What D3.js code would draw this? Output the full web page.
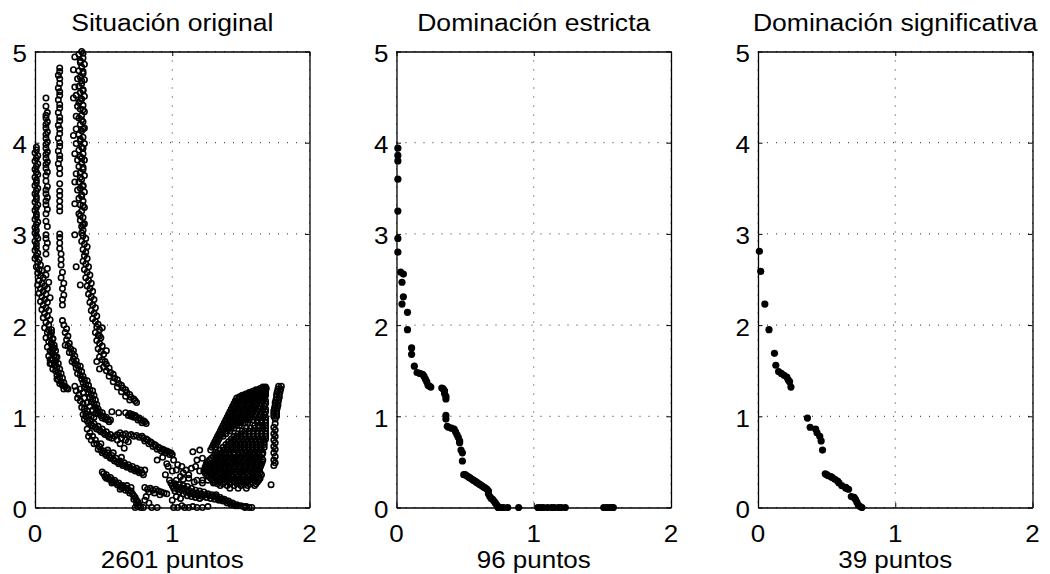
<!DOCTYPE html>
<html><head><meta charset="utf-8">
<script src="https://cdn.jsdelivr.net/npm/d3@7"></script>
<style>body{margin:0;background:#fff}svg{display:block}text{font-family:"Liberation Sans",Arial,Helvetica,sans-serif;fill:#000}</style>
</head><body>
<svg id="c" width="1050" height="574"></svg>
<script>
const titles = ["Situación original","Dominación estricta","Dominación significativa"];
const xlabels = ["2601 puntos","96 puntos","39 puntos"];
const xTicks = [0,1,2];
const yTicks = [0,1,2,3,4,5];

// ---- panel 1: all points (cluster by cluster) ----
const colA = [[0.01,3.95],[0.01,3.92],[0.00,3.89],[0.02,3.86],[0.01,3.83],[0.00,3.80],[0.02,3.77],[0.01,3.74],[0.00,3.71],[0.01,3.68],[0.02,3.65],[0.00,3.62],[0.01,3.59],[0.01,3.56],[0.00,3.53],[0.02,3.50],[0.01,3.47],[0.00,3.44],[0.01,3.41],[0.01,3.38],[0.00,3.35],[0.02,3.32],[0.01,3.29],[0.00,3.26],[0.01,3.22],[0.01,3.19],[0.00,3.16],[0.02,3.13],[0.01,3.10],[0.00,3.07],[0.01,3.04],[0.00,3.01],[0.01,2.98],[0.02,2.95],[0.00,2.92],[0.01,2.89],[0.01,2.85],[0.00,2.82],[0.02,2.79],[0.01,2.76],[0.00,2.73]];
const lowLeftSpread = [[0.03,2.72],[0.02,2.69],[0.04,2.66],[0.01,2.64],[0.03,2.61],[0.05,2.60],[0.02,2.57],[0.04,2.54],[0.06,2.52],[0.03,2.49],[0.05,2.46],[0.02,2.44],[0.07,2.43],[0.04,2.40],[0.06,2.37],[0.03,2.35],[0.08,2.34],[0.05,2.31],[0.07,2.28],[0.04,2.26],[0.09,2.25],[0.06,2.22],[0.08,2.19],[0.05,2.17],[0.10,2.16],[0.07,2.13],[0.09,2.10],[0.06,2.08],[0.11,2.06],[0.08,2.03],[0.10,2.00],[0.07,1.97],[0.12,1.95],[0.09,1.92],[0.11,1.89],[0.08,1.86],[0.13,1.85],[0.10,1.82],[0.12,1.79],[0.09,1.76],[0.14,1.75],[0.11,1.72],[0.13,1.69],[0.10,1.66],[0.15,1.65],[0.12,1.62],[0.14,1.59],[0.11,1.58]];
const colB = [[0.08,4.49],[0.08,4.40],[0.09,4.33],[0.08,4.30],[0.08,4.27],[0.09,4.23],[0.08,4.20],[0.08,4.16],[0.09,4.12],[0.08,4.09],[0.08,4.05],[0.09,4.01],[0.08,3.98],[0.08,3.94],[0.09,3.90],[0.08,3.87],[0.08,3.83],[0.09,3.79],[0.08,3.76],[0.08,3.72],[0.09,3.68],[0.08,3.64],[0.08,3.58],[0.09,3.52],[0.08,3.48],[0.08,3.44],[0.09,3.40],[0.08,3.36],[0.08,3.32],[0.09,3.27],[0.08,3.22],[0.08,3.14],[0.09,3.08],[0.08,2.99],[0.08,2.95],[0.09,2.90],[0.08,2.85],[0.08,2.78],[0.09,2.62],[0.08,2.55],[0.10,2.47],[0.09,2.40],[0.11,2.30]];
const colC = [[0.18,4.82],[0.18,4.78],[0.17,4.74],[0.18,4.70],[0.18,4.65],[0.17,4.60],[0.18,4.56],[0.18,4.52],[0.17,4.47],[0.18,4.42],[0.18,4.38],[0.17,4.33],[0.18,4.28],[0.18,4.24],[0.17,4.19],[0.18,4.15],[0.18,4.10],[0.17,4.05],[0.18,4.00],[0.18,3.96],[0.17,3.91],[0.18,3.86],[0.18,3.82],[0.17,3.77],[0.18,3.72],[0.18,3.66],[0.18,3.55],[0.18,3.47],[0.18,3.42],[0.18,3.36],[0.18,3.30],[0.18,3.25],[0.18,3.00],[0.18,2.96],[0.18,2.90],[0.18,2.84],[0.19,2.78],[0.19,2.72],[0.19,2.66],[0.20,2.58],[0.19,2.52],[0.21,2.46],[0.20,2.40],[0.21,2.33],[0.20,2.28],[0.20,2.22]];
const colD = [[0.34,5.00],[0.32,4.97],[0.35,4.93],[0.33,4.90],[0.36,4.86],[0.34,4.83],[0.32,4.79],[0.35,4.76],[0.33,4.72],[0.36,4.69],[0.34,4.65],[0.32,4.62],[0.35,4.58],[0.33,4.55],[0.36,4.51],[0.34,4.48],[0.32,4.44],[0.35,4.41],[0.33,4.37],[0.36,4.34],[0.34,4.30],[0.32,4.27],[0.35,4.23],[0.33,4.20],[0.36,4.16],[0.34,4.13],[0.32,4.09],[0.35,4.06],[0.33,4.02],[0.36,3.99],[0.34,3.95],[0.32,3.92],[0.35,3.88],[0.33,3.85],[0.36,3.81],[0.34,3.78],[0.32,3.74],[0.35,3.71],[0.33,3.67],[0.36,3.64],[0.34,3.60],[0.32,3.57],[0.35,3.53],[0.33,3.50],[0.36,3.46],[0.34,3.43],[0.32,3.39],[0.35,3.36],[0.33,3.32],[0.36,3.29],[0.34,3.25],[0.32,3.22],[0.35,3.18],[0.33,3.15],[0.36,3.11],[0.34,3.08],[0.35,3.04],[0.34,3.01],[0.35,4.98],[0.33,4.88],[0.35,4.78],[0.34,4.68],[0.35,4.57],[0.33,4.46],[0.35,4.36],[0.34,4.25],[0.35,4.15],[0.33,4.04],[0.35,3.94],[0.34,3.83],[0.35,3.73],[0.33,3.62],[0.35,3.52],[0.34,3.41],[0.35,3.31],[0.33,3.20],[0.35,3.10]];
const colDScatter = [[0.29,4.94],[0.28,4.80],[0.29,4.61],[0.28,4.49],[0.30,4.29],[0.28,4.08],[0.30,3.99],[0.29,3.88],[0.31,3.81],[0.30,3.66],[0.29,3.57],[0.31,3.48],[0.29,3.33],[0.29,2.99],[0.30,2.64],[0.33,2.44],[0.31,4.70],[0.30,4.52],[0.31,4.40],[0.30,4.15]];
const bandD = [[0.35,2.98],[0.37,2.95],[0.34,2.92],[0.36,2.89],[0.38,2.86],[0.35,2.83],[0.37,2.80],[0.36,2.76],[0.38,2.73],[0.35,2.70],[0.37,2.67],[0.39,2.64],[0.36,2.61],[0.38,2.58],[0.40,2.55],[0.37,2.52],[0.39,2.49],[0.41,2.46],[0.38,2.43],[0.40,2.40],[0.42,2.37],[0.39,2.34],[0.41,2.31],[0.43,2.28],[0.40,2.25],[0.42,2.22],[0.44,2.19],[0.41,2.16],[0.43,2.13],[0.45,2.10],[0.42,2.07],[0.44,2.04],[0.46,2.01],[0.45,1.98],[0.47,1.95],[0.44,1.92],[0.46,1.89],[0.48,1.86],[0.45,1.83],[0.47,1.80],[0.49,1.77],[0.46,1.74],[0.48,1.71],[0.50,1.68],[0.47,1.65],[0.49,1.62],[0.51,1.60],[0.52,1.57],[0.50,1.54],[0.54,1.53],[0.52,1.50],[0.55,1.48],[0.57,1.46],[0.54,1.44],[0.58,1.42],[0.60,1.40],[0.57,1.38],[0.61,1.36],[0.63,1.34],[0.60,1.32],[0.64,1.31],[0.66,1.29],[0.63,1.27],[0.67,1.26],[0.69,1.24],[0.66,1.22],[0.70,1.21],[0.72,1.19],[0.69,1.18],[0.73,1.17],[0.74,1.15],[0.47,1.88],[0.47,1.52],[0.45,1.60],[0.49,1.97],[0.52,1.72]];
const bandL1 = [[0.10,1.95],[0.12,1.92],[0.11,1.88],[0.13,1.85],[0.12,1.81],[0.14,1.78],[0.13,1.75],[0.15,1.72],[0.12,1.70],[0.14,1.67],[0.16,1.65],[0.13,1.62],[0.15,1.60],[0.17,1.58],[0.14,1.56],[0.16,1.54],[0.18,1.52],[0.15,1.50],[0.17,1.48],[0.19,1.47],[0.16,1.45],[0.18,1.43],[0.20,1.42],[0.17,1.40],[0.19,1.38],[0.21,1.37],[0.20,1.34],[0.22,1.33],[0.23,1.31],[0.21,1.30],[0.24,1.30],[0.12,1.58],[0.11,1.62],[0.13,1.52],[0.18,1.36],[0.16,1.41]];
const bandL2 = [[0.20,2.05],[0.21,2.00],[0.23,1.96],[0.22,1.92],[0.24,1.88],[0.23,1.84],[0.25,1.80],[0.24,1.77],[0.26,1.74],[0.28,1.72],[0.27,1.69],[0.29,1.66],[0.28,1.63],[0.30,1.61],[0.29,1.58],[0.31,1.56],[0.33,1.55],[0.30,1.53],[0.32,1.51],[0.34,1.49],[0.31,1.47],[0.33,1.45],[0.35,1.44],[0.34,1.41],[0.36,1.40],[0.38,1.39],[0.35,1.37],[0.37,1.35],[0.39,1.34],[0.36,1.32],[0.38,1.30],[0.40,1.29],[0.42,1.28],[0.39,1.26],[0.41,1.24],[0.43,1.23],[0.40,1.21],[0.42,1.19],[0.44,1.18],[0.41,1.16],[0.43,1.14],[0.45,1.13],[0.44,1.10],[0.46,1.08],[0.45,1.06],[0.47,1.05],[0.49,1.04],[0.46,1.03],[0.48,1.01],[0.50,1.00],[0.52,0.99],[0.49,0.98],[0.51,0.97],[0.53,0.96],[0.55,0.96],[0.54,0.94],[0.25,1.70],[0.22,1.78],[0.27,1.60],[0.30,1.28],[0.32,1.24],[0.31,1.20],[0.33,1.17],[0.35,1.14],[0.34,1.10],[0.36,1.08],[0.38,1.06],[0.37,1.03],[0.39,1.01],[0.41,1.00],[0.43,0.99],[0.36,1.20],[0.38,1.15],[0.40,1.11],[0.42,1.07],[0.44,1.03],[0.33,1.30],[0.29,1.33],[0.35,1.26]];
const bandShort = [[0.56,1.05],[0.61,1.04],[0.66,1.04],[0.69,1.03],[0.71,1.02],[0.73,1.01],[0.72,0.99],[0.74,0.99],[0.76,0.98],[0.75,0.96],[0.77,0.96],[0.79,0.95],[0.78,0.93],[0.80,0.94],[0.81,0.92],[0.70,1.00],[0.68,1.01]];
const bandM = [[0.35,1.02],[0.37,1.00],[0.36,0.97],[0.38,0.95],[0.40,0.96],[0.39,0.93],[0.41,0.91],[0.43,0.92],[0.42,0.89],[0.44,0.88],[0.46,0.89],[0.45,0.86],[0.47,0.85],[0.49,0.86],[0.48,0.83],[0.50,0.82],[0.52,0.83],[0.51,0.80],[0.53,0.79],[0.55,0.80],[0.54,0.77],[0.56,0.76],[0.58,0.78],[0.60,0.80],[0.62,0.82],[0.64,0.80],[0.66,0.81],[0.68,0.79],[0.70,0.80],[0.72,0.78],[0.74,0.79],[0.76,0.77],[0.78,0.78],[0.79,0.76],[0.81,0.75],[0.80,0.73],[0.82,0.74],[0.84,0.72],[0.83,0.70],[0.85,0.71],[0.87,0.69],[0.86,0.67],[0.88,0.68],[0.90,0.66],[0.89,0.64],[0.91,0.65],[0.93,0.64],[0.92,0.62],[0.94,0.63],[0.96,0.62],[0.95,0.60],[0.97,0.61],[0.99,0.60],[1.00,0.58],[0.98,0.58],[0.62,0.70],[0.65,0.65],[0.68,0.72],[0.60,0.74],[0.66,0.74],[0.63,0.76],[0.38,0.86],[0.40,0.82],[0.42,0.78],[0.41,0.74],[0.43,0.70],[0.39,0.78]];
const bandN = [[0.44,0.74],[0.45,0.70],[0.47,0.67],[0.46,0.64],[0.48,0.63],[0.50,0.62],[0.49,0.60],[0.51,0.59],[0.53,0.60],[0.52,0.57],[0.54,0.56],[0.56,0.57],[0.55,0.54],[0.57,0.53],[0.59,0.54],[0.58,0.51],[0.60,0.50],[0.62,0.51],[0.61,0.48],[0.63,0.48],[0.65,0.49],[0.64,0.46],[0.66,0.46],[0.68,0.47],[0.67,0.44],[0.69,0.44],[0.71,0.45],[0.70,0.42],[0.72,0.42],[0.74,0.43],[0.73,0.40],[0.75,0.40],[0.77,0.41],[0.76,0.38],[0.78,0.38],[0.80,0.41],[0.79,0.36],[0.53,0.63],[0.57,0.60],[0.63,0.55],[0.48,0.70]];
const bandLow = [[0.49,0.39],[0.50,0.37],[0.52,0.36],[0.51,0.34],[0.53,0.33],[0.55,0.33],[0.54,0.31],[0.56,0.30],[0.58,0.30],[0.57,0.28],[0.59,0.27],[0.61,0.27],[0.60,0.25],[0.62,0.24],[0.64,0.24],[0.63,0.22],[0.65,0.22],[0.67,0.21],[0.66,0.19],[0.68,0.19],[0.70,0.18],[0.69,0.16],[0.71,0.15],[0.72,0.13],[0.73,0.11],[0.72,0.09],[0.74,0.08],[0.75,0.06],[0.74,0.04],[0.76,0.03],[0.75,0.01],[0.77,0.00],[0.73,0.00],[0.79,0.00],[0.52,0.32],[0.56,0.27],[0.62,0.20],[0.67,0.24],[0.70,0.22]];
const band8 = [[0.80,0.22],[0.82,0.20],[0.84,0.21],[0.86,0.19],[0.88,0.20],[0.90,0.18],[0.92,0.17],[0.94,0.16],[0.96,0.15],[0.83,0.17],[0.87,0.16],[0.91,0.14],[0.80,0.08],[0.83,0.05],[0.85,0.00],[0.89,0.00],[0.81,0.12]];
const scatMid = [[0.93,0.55],[0.89,0.52],[0.97,0.45],[0.96,0.48],[1.01,0.52],[1.03,0.41],[1.07,0.45],[1.10,0.41],[1.14,0.43],[1.06,0.34],[0.98,0.30],[1.08,0.38],[1.15,0.61],[1.20,0.63],[1.22,0.54],[1.18,0.52],[1.25,0.48],[1.24,0.38],[1.22,0.30],[1.32,0.14],[1.00,0.40],[1.04,0.47],[0.95,0.36],[1.12,0.36],[1.17,0.45],[1.20,0.40]];
const tail = [[0.99,0.27],[1.00,0.24],[1.02,0.26],[1.01,0.21],[1.03,0.23],[1.05,0.25],[1.02,0.18],[1.04,0.20],[1.06,0.22],[1.08,0.24],[1.05,0.17],[1.07,0.19],[1.09,0.21],[1.11,0.23],[1.08,0.15],[1.10,0.17],[1.12,0.19],[1.14,0.21],[1.11,0.13],[1.13,0.15],[1.15,0.17],[1.17,0.19],[1.14,0.12],[1.16,0.14],[1.18,0.16],[1.20,0.18],[1.17,0.11],[1.19,0.13],[1.21,0.15],[1.23,0.17],[1.20,0.10],[1.22,0.12],[1.24,0.14],[1.26,0.15],[1.25,0.11],[1.27,0.13],[1.29,0.14],[1.28,0.10],[1.30,0.12],[1.32,0.12],[1.31,0.09],[1.33,0.10],[1.35,0.11],[1.34,0.08],[1.36,0.09],[1.38,0.09],[1.37,0.07],[1.39,0.07],[1.41,0.07],[1.40,0.05],[1.42,0.05],[1.44,0.05],[1.43,0.03],[1.45,0.03],[1.47,0.03],[1.46,0.02],[1.48,0.02],[1.50,0.02],[1.52,0.01],[1.54,0.01],[1.56,0.00],[1.58,0.00],[1.53,0.00],[1.01,0.00],[1.04,0.00],[1.07,0.02],[1.09,0.00],[1.12,0.00],[1.15,0.01],[1.18,0.00],[1.22,0.00],[1.26,0.01],[1.00,0.08],[1.03,0.12],[1.06,0.10],[1.03,0.30],[1.08,0.31],[1.12,0.32],[1.16,0.28],[1.22,0.27],[1.26,0.30],[1.30,0.27],[1.18,0.30]];
// dense right-hand cloud, one row per y value: [y, x1, x2, ...]
const blobRows = [
[1.32,1.66,1.68],
[1.305,1.64,1.665,1.685],
[1.29,1.61,1.63,1.66,1.68],
[1.275,1.585,1.61,1.635,1.66,1.68],
[1.26,1.56,1.59,1.61,1.64,1.66,1.68],
[1.245,1.535,1.56,1.585,1.61,1.635,1.66,1.68],
[1.23,1.51,1.53,1.56,1.58,1.61,1.63,1.66,1.68],
[1.215,1.49,1.515,1.54,1.565,1.59,1.615,1.64,1.665],
[1.20,1.47,1.49,1.52,1.54,1.57,1.59,1.62,1.64,1.67],
[1.17,1.46,1.48,1.51,1.53,1.56,1.58,1.61,1.63,1.66,1.68],
[1.14,1.45,1.47,1.50,1.52,1.55,1.57,1.60,1.62,1.65,1.68],
[1.11,1.44,1.46,1.49,1.51,1.54,1.56,1.59,1.61,1.64,1.67],
[1.08,1.43,1.45,1.48,1.50,1.53,1.55,1.58,1.60,1.63,1.66,1.68],
[1.05,1.42,1.44,1.47,1.49,1.52,1.54,1.57,1.59,1.62,1.65,1.68],
[1.02,1.41,1.43,1.46,1.48,1.51,1.53,1.56,1.58,1.61,1.64,1.67],
[0.99,1.40,1.42,1.45,1.47,1.50,1.52,1.55,1.57,1.60,1.63,1.66,1.68],
[0.96,1.39,1.41,1.44,1.46,1.49,1.51,1.54,1.56,1.59,1.62,1.65,1.68],
[0.93,1.38,1.40,1.43,1.45,1.48,1.50,1.53,1.55,1.62,1.65,1.68],
[0.90,1.37,1.39,1.42,1.44,1.47,1.49,1.60,1.63,1.66,1.68],
[0.87,1.36,1.38,1.41,1.43,1.45,1.54,1.57,1.60,1.63,1.66,1.68],
[0.84,1.35,1.37,1.40,1.42,1.51,1.53,1.56,1.59,1.62,1.65,1.68],
[0.81,1.34,1.36,1.39,1.48,1.50,1.53,1.56,1.59,1.62,1.65,1.68],
[0.78,1.33,1.35,1.37,1.45,1.47,1.50,1.53,1.56,1.59,1.62,1.65,1.68],
[0.75,1.32,1.34,1.43,1.45,1.48,1.51,1.54,1.57,1.60,1.63,1.66,1.68],
[0.72,1.31,1.33,1.41,1.43,1.46,1.49,1.52,1.55,1.58,1.61,1.64,1.67],
[0.69,1.30,1.32,1.39,1.41,1.44,1.47,1.50,1.53,1.56,1.59,1.62,1.65,1.67],
[0.66,1.29,1.31,1.37,1.40,1.43,1.46,1.49,1.52,1.55,1.58,1.61,1.64,1.67],
[0.63,1.28,1.35,1.38,1.41,1.44,1.47,1.50,1.53,1.56,1.59,1.62,1.65],
[0.60,1.33,1.36,1.39,1.42,1.45,1.48,1.51,1.54,1.57,1.60,1.63,1.66],
[0.58,1.315,1.345,1.38,1.415,1.45,1.485,1.52,1.555,1.59,1.625,1.655],
[0.56,1.30,1.33,1.36,1.40,1.43,1.47,1.50,1.54,1.57,1.61,1.64],
[0.54,1.285,1.315,1.35,1.385,1.42,1.455,1.49,1.53,1.565,1.60,1.635],
[0.52,1.27,1.31,1.34,1.38,1.41,1.45,1.48,1.52,1.56,1.59,1.63,1.66],
[0.50,1.26,1.30,1.33,1.37,1.40,1.44,1.47,1.51,1.55,1.585,1.62,1.655],
[0.48,1.25,1.29,1.32,1.36,1.39,1.43,1.46,1.50,1.54,1.58,1.62,1.65],
[0.46,1.245,1.28,1.315,1.35,1.385,1.42,1.455,1.495,1.535,1.575,1.615,1.645],
[0.44,1.24,1.27,1.31,1.34,1.38,1.41,1.45,1.49,1.53,1.57,1.61,1.64],
[0.42,1.235,1.265,1.305,1.335,1.375,1.405,1.445,1.485,1.525,1.565,1.605,1.635],
[0.40,1.23,1.26,1.30,1.33,1.37,1.40,1.44,1.48,1.52,1.56,1.60,1.63],
[0.38,1.24,1.275,1.31,1.345,1.38,1.415,1.455,1.495,1.535,1.575,1.61,1.64],
[0.36,1.25,1.29,1.32,1.36,1.39,1.43,1.47,1.51,1.55,1.59,1.62,1.65],
[0.34,1.265,1.30,1.335,1.37,1.405,1.44,1.48,1.52,1.56,1.60,1.63],
[0.32,1.28,1.31,1.35,1.38,1.42,1.46,1.50,1.54,1.58,1.61,1.64],
[0.30,1.295,1.325,1.36,1.40,1.44,1.48,1.52,1.56,1.60,1.63],
[0.28,1.31,1.34,1.38,1.42,1.46,1.50,1.54,1.58,1.62],
[0.26,1.33,1.37,1.42,1.47,1.52,1.57,1.61],
[0.24,1.35,1.40,1.45,1.50,1.55,1.60],
[0.21,1.42,1.48,1.54]
];
const rightCol = [[1.775,1.33],[1.795,1.33],[1.77,1.30],[1.79,1.30],[1.765,1.27],[1.785,1.27],[1.76,1.24],[1.78,1.24],[1.76,1.21],[1.78,1.21],[1.755,1.18],[1.775,1.18],[1.75,1.15],[1.77,1.15],[1.75,1.12],[1.77,1.12],[1.745,1.09],[1.765,1.09],[1.74,1.06],[1.76,1.06],[1.74,1.03],[1.76,1.03],[1.74,1.00],[1.76,1.00],[1.75,0.97],[1.75,0.92],[1.74,0.88],[1.75,0.85],[1.74,0.81],[1.75,0.78],[1.74,0.74],[1.75,0.71],[1.74,0.67],[1.75,0.64],[1.74,0.60],[1.75,0.56],[1.74,0.52],[1.75,0.49],[1.74,0.46],[1.72,0.25]];

// ---- panel 2: strict domination (96 points) ----
const strictPts = [[0.01,3.94],[0.01,3.86],[0.01,3.80],[0.01,3.60],[0.01,3.25],[0.01,2.95],[0.01,2.80],[0.03,2.58],[0.05,2.56],[0.04,2.47],[0.05,2.31],[0.04,2.23],[0.08,2.14],[0.08,1.95],[0.11,1.75],[0.11,1.68],[0.13,1.55],[0.15,1.48],[0.17,1.47],[0.19,1.46],[0.20,1.44],[0.21,1.41],[0.22,1.38],[0.23,1.34],[0.25,1.32],[0.24,1.33],[0.33,1.31],[0.34,1.30],[0.35,1.28],[0.35,1.25],[0.36,1.22],[0.36,1.19],[0.36,1.01],[0.36,0.97],[0.37,0.89],[0.38,0.88],[0.40,0.87],[0.42,0.86],[0.43,0.83],[0.44,0.80],[0.45,0.77],[0.46,0.73],[0.46,0.71],[0.47,0.63],[0.48,0.60],[0.48,0.51],[0.49,0.36],[0.50,0.36],[0.51,0.35],[0.52,0.34],[0.53,0.33],[0.54,0.32],[0.55,0.31],[0.56,0.30],[0.57,0.29],[0.58,0.28],[0.59,0.27],[0.60,0.26],[0.61,0.25],[0.62,0.24],[0.63,0.23],[0.64,0.22],[0.65,0.21],[0.66,0.20],[0.67,0.18],[0.67,0.15],[0.68,0.12],[0.69,0.10],[0.70,0.09],[0.71,0.07],[0.72,0.05],[0.73,0.03],[0.74,0.01],[0.74,0.00],[0.76,0.00],[0.78,0.00],[0.81,0.00],[0.89,0.00],[1.03,0.00],[1.05,0.00],[1.07,0.00],[1.10,0.00],[1.13,0.00],[1.15,0.00],[1.18,0.00],[1.20,0.00],[1.23,0.00],[1.51,0.00],[1.53,0.00],[1.55,0.00],[1.57,0.00],[1.58,0.00]];

// ---- panel 3: significant domination (39 points) ----
const signifPts = [[0.01,2.81],[0.02,2.59],[0.05,2.23],[0.08,1.95],[0.12,1.69],[0.13,1.56],[0.15,1.49],[0.17,1.47],[0.19,1.45],[0.21,1.43],[0.22,1.40],[0.23,1.38],[0.24,1.32],[0.36,0.98],[0.38,0.88],[0.42,0.86],[0.43,0.82],[0.45,0.78],[0.46,0.73],[0.47,0.63],[0.49,0.37],[0.50,0.36],[0.51,0.35],[0.53,0.34],[0.54,0.33],[0.56,0.31],[0.58,0.29],[0.59,0.27],[0.61,0.24],[0.64,0.22],[0.64,0.21],[0.66,0.20],[0.68,0.12],[0.70,0.11],[0.71,0.09],[0.72,0.06],[0.73,0.03],[0.745,0.01],[0.757,0.00]];

// ---- assemble ----
const blobPts = [];
blobRows.forEach(r => r.slice(1).forEach(x => blobPts.push([x, r[0]])));
const originalPts = [].concat(colA, lowLeftSpread, colB, colC, colD, colDScatter, bandD, bandL1, bandL2, bandShort, bandM, bandN, bandLow, band8, scatMid, tail, blobPts, rightCol);
const panels = [
  {pts: originalPts, open: true},
  {pts: strictPts, open: false},
  {pts: signifPts, open: false}
];

const panelLeft = [35, 396.5, 758], PW = 274.5, PT = 51.5, PB = 507.5;
const SX = 1.13; // horizontal stretch of the original rendering
const svg = d3.select('#c');

function label(g, x, y, s, size, anchor){
  g.append('text').attr('transform', `translate(${x},${y}) scale(${SX},1)`)
    .attr('text-anchor', anchor).attr('font-size', size).text(s);
}

panels.forEach((p, i) => {
  const g = svg.append('g');
  const x = d3.scaleLinear().domain([0, 2]).range([panelLeft[i], panelLeft[i] + PW]);
  const y = d3.scaleLinear().domain([0, 5]).range([PB, PT]);
  // dotted grid
  g.append('g').selectAll('line').data(xTicks).join('line')
    .attr('x1', d => x(d)).attr('x2', d => x(d)).attr('y1', PT).attr('y2', PB)
    .attr('stroke', '#000').attr('stroke-width', 1).attr('stroke-dasharray', '1 8').attr('opacity', 0.85);
  g.append('g').selectAll('line').data(yTicks).join('line')
    .attr('y1', d => y(d)).attr('y2', d => y(d)).attr('x1', x(0)).attr('x2', x(2))
    .attr('stroke', '#000').attr('stroke-width', 1).attr('stroke-dasharray', '1 8').attr('opacity', 0.85);
  // points
  const m = g.append('g').selectAll('circle').data(p.pts).join('circle')
    .attr('cx', d => x(d[0])).attr('cy', d => y(d[1]));
  if (p.open) m.attr('r', 2.7).attr('fill', 'none').attr('stroke', '#000').attr('stroke-width', 1.6);
  else m.attr('r', 3.6).attr('fill', '#000');
  // axes (inward ticks on all four sides)
  const noLab = () => '';
  const axB = d3.axisBottom(x).tickValues(xTicks).tickSize(-4.5).tickSizeOuter(0).tickFormat(noLab);
  const axT = d3.axisTop(x).tickValues(xTicks).tickSize(-4.5).tickSizeOuter(0).tickFormat(noLab);
  const axL = d3.axisLeft(y).tickValues(yTicks).tickSize(-4.5).tickSizeOuter(0).tickFormat(noLab);
  const axR = d3.axisRight(y).tickValues(yTicks).tickSize(-4.5).tickSizeOuter(0).tickFormat(noLab);
  [[axB, `translate(0,${PB})`], [axT, `translate(0,${PT})`], [axL, `translate(${x(0)},0)`], [axR, `translate(${x(2)},0)`]]
    .forEach(([a, t]) => {
      const ag = g.append('g').attr('transform', t).call(a);
      ag.selectAll('path').attr('stroke', '#000').attr('stroke-width', 1.3);
      ag.selectAll('line').attr('stroke', '#000').attr('stroke-width', 1);
    });
  // tick labels
  yTicks.forEach(v => label(g, x(0) - 8, y(v) + 10.5, String(v), 23, 'end'));
  xTicks.forEach(v => label(g, x(v), PB + 34, String(v), 23, 'middle'));
  // title and x label
  label(g, (x(0) + x(2)) / 2, 30.5, titles[i], 23.5, 'middle');
  label(g, (x(0) + x(2)) / 2, 567.5, xlabels[i], 23, 'middle');
});
</script>
</body></html>
